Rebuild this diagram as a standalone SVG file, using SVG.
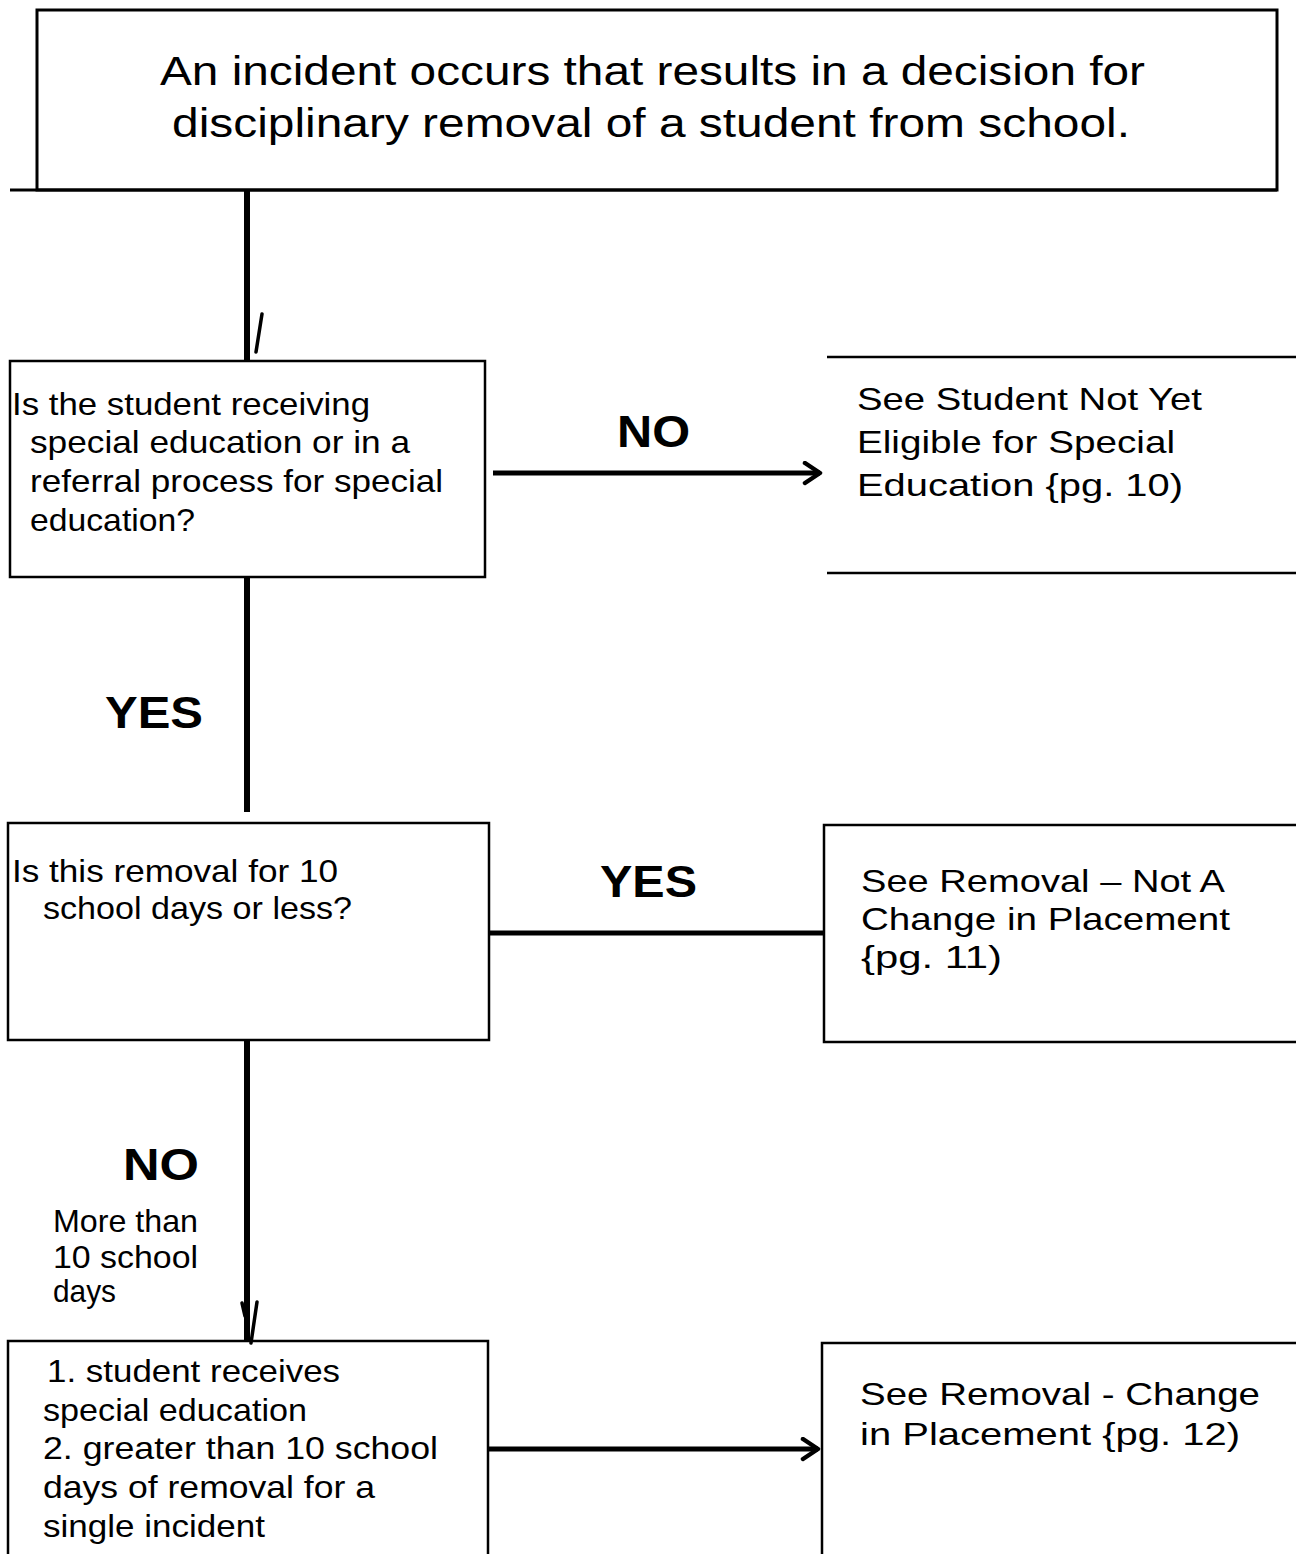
<svg xmlns="http://www.w3.org/2000/svg" width="1296" height="1554" viewBox="0 0 1296 1554">
<style>
.bg{fill:#fff}
.box{fill:none;stroke:#000;stroke-width:2.5}
.thick{fill:none;stroke:#000;stroke-width:3}
.t{font-family:"Liberation Sans",Arial,sans-serif;font-size:32px;fill:#000}
.big{font-family:"Liberation Sans",Arial,sans-serif;font-size:41px;fill:#000}
.lbl{font-family:"Liberation Sans",Arial,sans-serif;font-size:44px;font-weight:bold;fill:#000}
.conn{fill:none;stroke:#000;stroke-width:5}
.vconn{fill:none;stroke:#000;stroke-width:6}
.mark{fill:none;stroke:#000;stroke-width:3.5;stroke-linecap:round}
</style>
<defs>
<marker id="arr" viewBox="0 0 10 10" refX="9" refY="5" markerWidth="5" markerHeight="5" orient="auto" markerUnits="strokeWidth">
<path d="M3,1 L9,5 L3,9" fill="none" stroke="#000" stroke-width="1.8" stroke-linecap="round" stroke-linejoin="round"/>
</marker>
</defs>
<rect class="bg" x="0" y="0" width="1296" height="1554"/>

<g id="connectors">
<line class="vconn" x1="247" y1="190" x2="247" y2="362"/>
<line class="mark" x1="262" y1="314" x2="256" y2="352"/>
<line class="vconn" x1="247" y1="578" x2="247" y2="812"/>
<line class="conn" x1="493" y1="473" x2="820" y2="473" marker-end="url(#arr)"/>
<line class="conn" x1="489" y1="933" x2="824" y2="933"/>
<line class="vconn" x1="247" y1="1040" x2="247" y2="1342"/>
<line class="mark" x1="242" y1="1303" x2="245" y2="1316"/>
<line class="mark" x1="257" y1="1302" x2="251" y2="1343"/>
<line class="conn" x1="489" y1="1449" x2="818" y2="1449" marker-end="url(#arr)"/>
<text class="lbl" x="617" y="447" textLength="73" lengthAdjust="spacingAndGlyphs">NO</text>
<text class="lbl" x="105" y="728" textLength="98" lengthAdjust="spacingAndGlyphs">YES</text>
<text class="lbl" x="600" y="897" textLength="97" lengthAdjust="spacingAndGlyphs">YES</text>
<text class="lbl" x="123" y="1180" textLength="76" lengthAdjust="spacingAndGlyphs">NO</text>
<text class="t" font-size="29" x="53" y="1232" textLength="145" lengthAdjust="spacingAndGlyphs">More than</text>
<text class="t" font-size="29" x="53" y="1268" textLength="145" lengthAdjust="spacingAndGlyphs">10 school</text>
<text class="t" font-size="29" x="53" y="1302" textLength="63" lengthAdjust="spacingAndGlyphs">days</text>
</g>

<g id="start">
<rect class="thick" x="37" y="10" width="1240" height="180"/>
<line class="thick" x1="10" y1="190" x2="1277" y2="190"/>
<text class="big" x="160" y="85" textLength="985" lengthAdjust="spacingAndGlyphs">An incident occurs that results in a decision for</text>
<text class="big" x="172" y="137" textLength="958" lengthAdjust="spacingAndGlyphs">disciplinary removal of a student from school.</text>
</g>

<g id="q1">
<rect class="box" x="10" y="361" width="475" height="216"/>
<text class="t" x="12" y="415" textLength="358" lengthAdjust="spacingAndGlyphs">Is the student receiving</text>
<text class="t" x="30" y="453" textLength="380" lengthAdjust="spacingAndGlyphs">special education or in a</text>
<text class="t" x="30" y="492" textLength="413" lengthAdjust="spacingAndGlyphs">referral process for special</text>
<text class="t" x="30" y="531" textLength="165" lengthAdjust="spacingAndGlyphs">education?</text>
</g>

<g id="r1">
<line class="box" x1="827" y1="357" x2="1296" y2="357"/>
<line class="box" x1="827" y1="573" x2="1296" y2="573"/>
<text class="t" x="857" y="410" textLength="345" lengthAdjust="spacingAndGlyphs">See Student Not Yet</text>
<text class="t" x="857" y="453" textLength="318" lengthAdjust="spacingAndGlyphs">Eligible for Special</text>
<text class="t" x="857" y="496" textLength="326" lengthAdjust="spacingAndGlyphs">Education {pg. 10)</text>
</g>

<g id="q2">
<rect class="box" x="8" y="823" width="481" height="217"/>
<text class="t" x="12" y="882" textLength="326" lengthAdjust="spacingAndGlyphs">Is this removal for  10</text>
<text class="t" x="43" y="919" textLength="309" lengthAdjust="spacingAndGlyphs">school days or less?</text>
</g>

<g id="r2">
<path class="box" d="M1296,825 H824 V1042 H1296"/>
<text class="t" x="861" y="892" textLength="364" lengthAdjust="spacingAndGlyphs">See Removal – Not A</text>
<text class="t" x="861" y="930" textLength="369" lengthAdjust="spacingAndGlyphs">Change in Placement</text>
<text class="t" x="861" y="968" textLength="141" lengthAdjust="spacingAndGlyphs">{pg. 11)</text>
</g>

<g id="q3">
<path class="box" d="M8,1554 V1341 H488 V1554"/>
<text class="t" x="47" y="1382" textLength="293" lengthAdjust="spacingAndGlyphs">1. student receives</text>
<text class="t" x="43" y="1421" textLength="264" lengthAdjust="spacingAndGlyphs">special education</text>
<text class="t" x="43" y="1459" textLength="395" lengthAdjust="spacingAndGlyphs">2. greater than 10 school</text>
<text class="t" x="43" y="1498" textLength="332" lengthAdjust="spacingAndGlyphs">days of removal for a</text>
<text class="t" x="43" y="1537" textLength="222" lengthAdjust="spacingAndGlyphs">single incident</text>
</g>

<g id="r3">
<path class="box" d="M1296,1343 H822 V1554"/>
<text class="t" x="860" y="1405" textLength="400" lengthAdjust="spacingAndGlyphs">See Removal - Change</text>
<text class="t" x="860" y="1445" textLength="380" lengthAdjust="spacingAndGlyphs">in Placement {pg. 12)</text>
</g>
</svg>
